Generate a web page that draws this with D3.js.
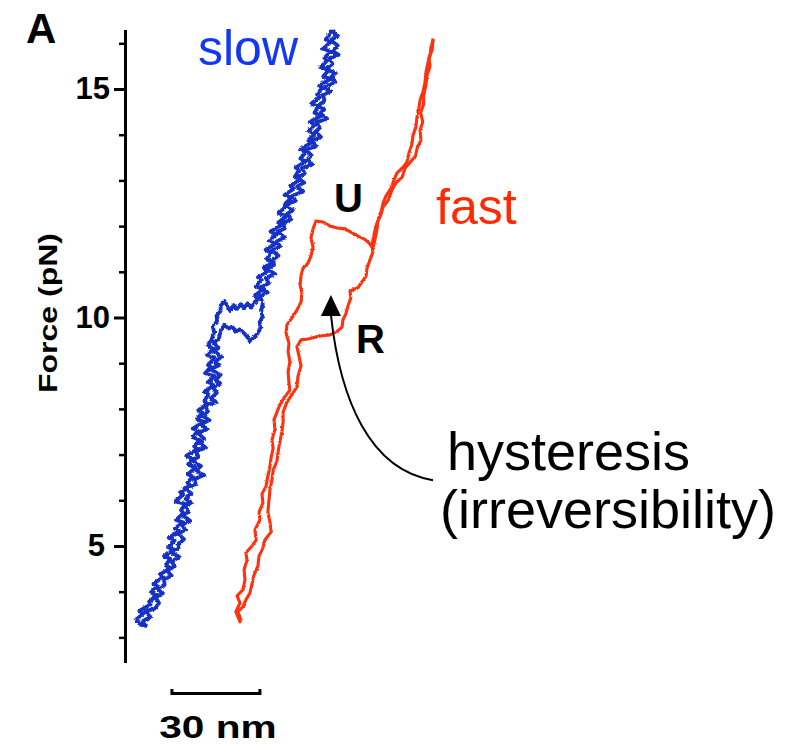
<!DOCTYPE html>
<html><head><meta charset="utf-8">
<script src="https://cdn.jsdelivr.net/npm/d3@7/dist/d3.min.js"></script>
<style>body{margin:0;background:#fff}svg{display:block}</style>
</head><body>
<svg id="chart" width="802" height="747"></svg>
<script>
// ---- data (extension in nm, force in pN) ----
const forceTicks = [3,4,5,6,7,8,9,10,11,12,13,14,15,16];
const forceLabels = [5,10,15];
const forceRange = [2.45, 16.3];
const scaleBarNm = [16, 46];
const scaleBarLabel = "30 nm";

// slow pull (blue) : stretch and relax traces
const blueUp = [[4.9,3.30],[3.7,3.38],[6.2,3.52],[4.9,3.58],[8.7,3.72],[8.2,3.78],[11.1,3.92],[8.8,3.98],[11.0,4.12],[9.7,4.17],[13.0,4.32],[11.9,4.38],[15.7,4.52],[13.9,4.57],[15.4,4.72],[13.3,4.78],[16.7,4.92],[14.7,4.97],[16.9,5.12],[14.9,5.18],[18.3,5.32],[17.0,5.38],[19.8,5.52],[17.4,5.57],[19.9,5.72],[19.1,5.78],[20.4,5.92],[17.2,5.98],[19.8,6.12],[18.7,6.17],[22.3,6.32],[21.2,6.38],[23.1,6.52],[21.4,6.57],[24.1,6.72],[21.5,6.78],[22.9,6.92],[20.9,6.97],[24.6,7.12],[23.6,7.18],[25.5,7.32],[23.1,7.38],[24.9,7.52],[23.1,7.57],[26.9,7.72],[24.5,7.78],[26.4,7.92],[25.0,7.97],[28.3,8.12],[27.1,8.18],[28.4,8.32],[27.1,8.37],[30.3,8.52],[28.2,8.58],[30.6,8.72],[27.3,8.78],[29.3,8.92],[28.4,8.97],[30.6,9.12],[28.0,9.18],[30.2,9.32],[28.2,9.38],[29.4,9.50],
  [30.4,9.68],[29.9,9.80],[31.4,9.92],[31.2,10.04],[32.6,10.14],[32.6,10.26],[34.0,10.36],[35.1,10.22],[35.9,10.14],[37.0,10.27],[38.2,10.19],[39.4,10.29],[40.6,10.21],[41.8,10.31],[43.0,10.22],[44.2,10.34],[45.0,10.38],
  [45.0,10.42],[44.3,10.48],[47.1,10.62],[44.6,10.68],[46.6,10.82],[45.3,10.88],[48.7,11.02],[47.2,11.08],[50.3,11.22],[48.3,11.28],[49.8,11.42],[47.9,11.48],[51.4,11.62],[49.3,11.68],[51.4,11.82],[49.6,11.88],[53.4,12.02],[52.3,12.08],[55.0,12.22],[52.4,12.28],[54.6,12.42],[54.5,12.48],[56.7,12.62],[54.4,12.68],[57.6,12.82],[56.3,12.88],[59.7,13.02],[57.9,13.08],[59.3,13.22],[58.2,13.28],[61.7,13.42],[59.8,13.48],[61.7,13.62],[59.7,13.68],[63.4,13.82],[62.5,13.88],[64.7,14.02],[62.5,14.08],[64.7,14.22],[63.0,14.28],[67.1,14.42],[64.6,14.48],[65.9,14.62],[63.5,14.68],[66.4,14.82],[65.5,14.88],[67.1,15.02],[66.3,15.08],[70.1,15.22],[67.6,15.28],[69.6,15.42],[66.7,15.48],[68.9,15.62],[68.0,15.68],[70.1,15.82],[67.5,15.88],[70.0,16.02],[68.4,16.08],[69.9,16.20],[70.2,16.26]];
const blueDown = [[70.9,16.26],[72.4,16.15],[70.0,16.07],[72.5,15.95],[70.7,15.83],[72.8,15.75],[69.7,15.67],[70.7,15.55],[68.5,15.43],[71.8,15.35],[70.4,15.27],[71.7,15.15],[67.7,15.03],[70.2,14.95],[67.4,14.87],[68.1,14.75],[65.7,14.63],[67.9,14.55],[66.5,14.47],[68.9,14.35],[65.2,14.27],[66.4,14.15],[65.0,14.07],[66.8,13.95],[63.6,13.87],[65.1,13.75],[61.7,13.67],[63.6,13.55],[62.3,13.47],[63.8,13.35],[60.3,13.27],[61.3,13.15],[58.8,13.07],[61.1,12.95],[58.7,12.87],[60.6,12.75],[57.2,12.67],[58.1,12.55],[54.7,12.47],[57.2,12.35],[55.3,12.27],[56.7,12.15],[53.8,12.07],[54.5,11.95],[52.0,11.87],[54.5,11.75],[51.8,11.67],[52.8,11.55],[50.1,11.47],[52.3,11.35],[50.5,11.27],[50.8,11.15],[48.2,11.07],[51.2,10.95],[48.0,10.87],[49.0,10.75],[46.6,10.67],[48.6,10.55],[46.0,10.47],
  [47.0,10.30],[46.4,10.15],[46.9,10.02],[45.9,9.90],[46.2,9.76],[44.8,9.62],[43.6,9.55],[42.5,9.48],[41.4,9.60],[40.2,9.68],[39.0,9.74],[37.8,9.70],[36.5,9.80],[35.2,9.76],[34.0,9.84],[32.8,9.74],[32.3,9.62],[31.9,9.52],
  [30.3,9.45],[31.8,9.33],[30.0,9.27],[33.0,9.15],[30.8,9.03],[32.0,8.95],[28.9,8.87],[32.6,8.75],[31.0,8.63],[32.5,8.55],[30.0,8.47],[31.3,8.35],[29.2,8.23],[31.2,8.15],[27.3,8.07],[28.2,7.95],[26.9,7.83],[28.8,7.75],[25.9,7.67],[27.8,7.55],[24.8,7.47],[27.0,7.35],[25.9,7.23],[27.6,7.15],[24.1,7.07],[25.1,6.95],[22.9,6.87],[25.9,6.75],[24.4,6.63],[27.0,6.55],[23.7,6.47],[24.1,6.35],[20.4,6.27],[22.6,6.15],[20.7,6.03],[22.6,5.95],[20.4,5.87],[21.8,5.75],[19.7,5.67],[22.2,5.55],[19.5,5.47],[20.5,5.35],[18.0,5.27],[20.1,5.15],[18.2,5.03],[18.2,4.95],[15.5,4.87],[18.7,4.75],[15.8,4.67],[16.9,4.55],[14.3,4.47],[15.9,4.35],[13.3,4.27],[13.5,4.15],[11.2,4.07],[12.8,3.95],[10.4,3.87],[11.6,3.75],[10.1,3.63],[6.9,3.57],[8.6,3.45],[5.9,3.35],[7.1,3.25],[5.2,3.28]];

// fast pull (red) : stretch (unfolding, U) and relax (refolding, R) traces
const redUp = [[39.2,3.34],[37.8,3.56],[39.2,3.75],[38.2,3.91],[40.2,4.04],[40.9,4.26],[40.6,4.48],[41.6,4.69],[41.2,4.85],[43.3,5.00],[44.7,5.13],[44.3,5.35],[46.0,5.57],[45.7,5.74],[47.0,5.94],[46.7,6.14],[48.1,6.31],[48.7,6.53],[49.4,6.73],[49.8,6.93],[50.5,7.14],[50.1,7.32],[51.1,7.54],[50.8,7.76],[51.8,7.93],[52.8,8.09],[54.2,8.24],[56.2,8.41],[55.9,8.57],[55.6,8.81],[56.2,9.03],[55.6,9.25],[55.9,9.44],[54.9,9.66],[55.2,9.84],[56.9,9.99],[58.6,10.16],[60.0,10.34],[60.3,10.54],[59.7,10.71],[60.0,10.91],[60.7,11.08],[62.4,11.19],[63.4,11.35],[64.1,11.54],[63.4,11.74],[64.1,11.94],[65.1,12.11],[67.5,12.09],[69.9,12.00],[72.3,11.96],[75.0,11.94],[77.4,11.85],[79.4,11.78],[81.5,11.72],[83.2,11.63],[84.5,11.52],[85.2,11.70],[85.9,11.92],[86.2,12.13],[87.3,12.31],[88.0,12.51],[89.0,12.66],[90.7,12.83],[91.7,13.01],[92.7,13.16],[94.8,13.29],[96.1,13.40],[96.8,13.60],[97.8,13.78],[98.2,13.99],[99.2,14.17],[99.5,14.37],[100.2,14.59],[100.6,14.76],[101.6,14.94],[102.3,15.15],[102.6,15.37],[103.3,15.57],[104.0,15.74],[104.3,15.92],[105.0,16.07]];
const redDown = [[105.0,16.07],[104.7,15.85],[103.6,15.68],[104.0,15.50],[103.0,15.31],[102.6,15.09],[101.8,14.87],[101.8,14.67],[100.8,14.48],[101.5,14.28],[100.6,14.10],[100.9,13.88],[99.6,13.71],[99.0,13.53],[97.0,13.38],[95.5,13.27],[94.5,13.07],[92.3,12.94],[91.0,12.79],[89.8,12.57],[88.0,12.42],[87.2,12.24],[85.6,12.02],[84.9,11.81],[84.2,11.59],[84.5,11.43],[83.5,11.26],[82.5,11.08],[82.2,10.91],[80.8,10.78],[79.4,10.65],[76.7,10.58],[77.0,10.43],[76.0,10.25],[75.3,10.08],[74.3,9.95],[74.0,9.79],[71.9,9.68],[69.9,9.62],[67.2,9.60],[64.8,9.57],[62.4,9.53],[60.0,9.51],[58.6,9.36],[59.3,9.16],[60.0,8.94],[59.0,8.72],[58.6,8.48],[56.9,8.31],[55.2,8.15],[53.9,7.93],[53.9,7.71],[53.5,7.50],[52.8,7.28],[52.2,7.06],[51.8,6.86],[50.5,6.66],[50.1,6.44],[49.4,6.23],[49.1,6.01],[48.7,5.74],[49.4,5.53],[49.8,5.31],[47.7,5.13],[47.0,4.96],[45.7,4.78],[45.3,4.56],[44.0,4.37],[43.3,4.17],[42.6,3.97],[41.2,3.82],[40.2,3.67],[38.5,3.56],[39.5,3.38]];

// annotation arrow (hysteresis) : curve from label to the loop
const arrowCurve = [[105.0,6.44],[83.5,6.66],[73.3,8.20],[70.2,10.06]];
const arrowTip = [70.2,10.49];

// ---- drawing ----
const FONT = '"Liberation Sans", Arial, Helvetica, sans-serif';
const BLUE = "#1530c4", BLUE_TXT = "#1238f2", RED = "#ff3210", RED_TXT = "#ff2a00";
const svg = d3.select("#chart");
const x = d3.scaleLinear().domain([0, 30]).range([125, 213]);
const y = d3.scaleLinear().domain(forceRange).range([662.5, 29.6]);

const defs = svg.append("defs");
function roughFilter(id, freq, amount, seed) {
  const f = defs.append("filter").attr("id", id).attr("filterUnits", "userSpaceOnUse")
    .attr("x", 0).attr("y", 0).attr("width", 802).attr("height", 747);
  f.append("feTurbulence").attr("type", "fractalNoise").attr("baseFrequency", freq)
    .attr("numOctaves", 2).attr("seed", seed).attr("result", "n");
  f.append("feDisplacementMap").attr("in", "SourceGraphic").attr("in2", "n")
    .attr("scale", amount).attr("xChannelSelector", "R").attr("yChannelSelector", "G");
}
roughFilter("roughBlue", 0.35, 3, 7);
roughFilter("roughRed", 0.45, 2.2, 3);

// axis
const axis = d3.axisLeft(y).tickValues(forceTicks).tickSize(11).tickPadding(4).tickSizeOuter(0)
  .tickFormat(d => forceLabels.includes(d) ? d : "");
const gA = svg.append("g").attr("transform", "translate(125,0)").call(axis);
gA.select(".domain").attr("stroke", "#000").attr("stroke-width", 3);
gA.selectAll(".tick line").attr("stroke", "#000")
  .attr("stroke-width", d => forceLabels.includes(d) ? 3 : 2.5)
  .attr("x2", d => forceLabels.includes(d) ? -11 : -6);
gA.selectAll(".tick text").attr("font-family", FONT).attr("font-weight", "bold")
  .attr("font-size", 31).attr("fill", "#000")
  .attr("dx", d => d < 10 ? -5 : 0);

svg.append("text").attr("transform", "translate(57,313) rotate(-90) scale(1.28,1)")
  .attr("text-anchor", "middle").attr("font-family", FONT).attr("font-weight", "bold")
  .attr("font-size", 25).text("Force (pN)");

svg.append("text").attr("x", 26).attr("y", 43).attr("font-family", FONT)
  .attr("font-weight", "bold").attr("font-size", 42).text("A");

// traces
const line = d3.line().x(d => x(d[0])).y(d => y(d[1]));
const gT = svg.append("g");
gT.append("g").attr("filter", "url(#roughBlue)").selectAll("path").data([blueUp, blueDown]).join("path")
  .attr("d", line).attr("fill", "none").attr("stroke", BLUE).attr("stroke-width", 3.8)
  .attr("stroke-linejoin", "round").attr("stroke-linecap", "round");
gT.append("g").attr("filter", "url(#roughRed)").selectAll("path").data([redUp, redDown]).join("path")
  .attr("d", line).attr("fill", "none").attr("stroke", RED).attr("stroke-width", 3.1)
  .attr("stroke-linejoin", "round").attr("stroke-linecap", "round");

// labels
svg.append("text").attr("x", 198).attr("y", 65).attr("font-family", FONT)
  .attr("font-size", 50).attr("fill", BLUE_TXT).text("slow");
svg.append("text").attr("x", 436).attr("y", 224).attr("font-family", FONT)
  .attr("font-size", 50).attr("fill", RED_TXT).text("fast");
svg.append("text").attr("x", 334).attr("y", 212).attr("font-family", FONT)
  .attr("font-weight", "bold").attr("font-size", 40).text("U");
svg.append("text").attr("x", 356).attr("y", 353).attr("font-family", FONT)
  .attr("font-weight", "bold").attr("font-size", 40).text("R");
svg.append("text").attr("x", 447).attr("y", 470).attr("font-family", FONT)
  .attr("font-size", 54).text("hysteresis");
svg.append("text").attr("x", 440).attr("y", 528).attr("font-family", FONT)
  .attr("font-size", 54).text("(irreversibility)");

// arrow
const p = arrowCurve.map(d => [x(d[0]), y(d[1])]);
svg.append("path").attr("d", `M${p[0]}C${p[1]} ${p[2]} ${p[3]}`)
  .attr("fill", "none").attr("stroke", "#000").attr("stroke-width", 2);
const tx = x(arrowTip[0]), ty = y(arrowTip[1]);
svg.append("path").attr("d", `M${tx},${ty}L${tx-10},${ty+21}L${tx+10},${ty+21}Z`).attr("fill", "#000");

// scale bar
const sb = svg.append("g");
const sx0 = x(scaleBarNm[0]), sx1 = x(scaleBarNm[1]);
sb.append("path").attr("d", `M${sx0},689V693.5H${sx1}V689`).attr("fill", "none")
  .attr("stroke", "#000").attr("stroke-width", 3);
sb.append("text").attr("transform", `translate(${(sx0 + sx1) / 2 + 2},738) scale(1.27,1)`)
  .attr("text-anchor", "middle").attr("font-family", FONT).attr("font-weight", "bold")
  .attr("font-size", 32).text(scaleBarLabel);
</script>
</body></html>
